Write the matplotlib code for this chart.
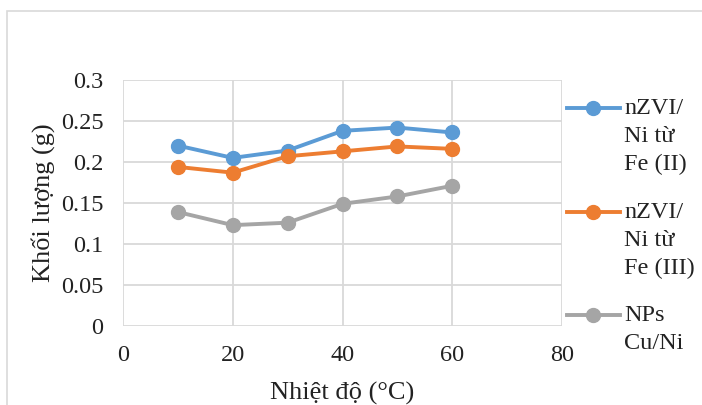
import matplotlib
matplotlib.use('Agg')
import matplotlib.pyplot as plt
from matplotlib.lines import Line2D
from matplotlib.patches import Rectangle

# data
temps = [10, 20, 30, 40, 50, 60]
fe2 = [0.220, 0.205, 0.214, 0.238, 0.242, 0.236]
fe3 = [0.194, 0.187, 0.207, 0.213, 0.219, 0.216]
cuni = [0.139, 0.123, 0.126, 0.149, 0.158, 0.171]
labels = ['nZVI/\nNi từ\nFe (II)', 'nZVI/\nNi từ\nFe (III)', 'NPs\nCu/Ni']
colors = ['#5B9BD5', '#ED7D31', '#A5A5A5']
xticks = [0, 20, 40, 60, 80]
yticks = [0, 0.05, 0.1, 0.15, 0.2, 0.25, 0.3]
ytick_labels = ['0', '0.05', '0.1', '0.15', '0.2', '0.25', '0.3']

plt.rcParams['font.family'] = ['Liberation Serif', 'DejaVu Serif']
W, H = 702, 405
fig = plt.figure(figsize=(W / 100, H / 100), dpi=100)

#outer chart frame (top part cut off in the reference)
fig.patches.append(Rectangle((7 / W, -0.1), 1.2, 1 - 11 / H + 0.1, transform=fig.transFigure,
                             fill=False, edgecolor='#D9D9D9', linewidth=1.2))

ax = fig.add_axes([123 / W, 1 - 326 / H, (562 - 123) / W, (326 - 80) / H])
grid = '#D9D9D9'
for s in ax.spines.values():
    s.set_visible(False)
ax.set_xlim(0, 80)
ax.set_ylim(0, 0.3)
ax.set_xticks(xticks)
ax.set_yticks(yticks)
ax.set_yticklabels(ytick_labels)
ax.grid(True, color=grid, linewidth=1.3)
ax.tick_params(length=0, labelsize=17.5, colors='#222222', pad=14)
ax.set_axisbelow(True)

series = [fe2, fe3, cuni]
for ys, c in zip(series, colors):
    ax.plot(temps, ys, color=c, linewidth=2.8, marker='o', markersize=10, clip_on=False)

ax.set_xlabel('Nhiệt độ (°C)', fontsize=19, color='#222222', labelpad=11)
ax.set_ylabel('Khối lượng (g)', fontsize=19, color='#222222', labelpad=4)

#legend drawn by hand so the handle sits on the first text line
handle_y = [108, 212, 315]
for lab, c, hy in zip(labels, colors, handle_y):
    fy = 1 - hy / H
    fig.add_artist(Line2D([567 / W, 620 / W], [fy, fy], transform=fig.transFigure,
                          color=c, linewidth=2.8))
    fig.add_artist(Line2D([593 / W], [fy], transform=fig.transFigure, color=c,
                          marker='o', markersize=10))
    fig.text(624 / W, 1 - (hy - 10) / H, lab, fontsize=17.5, va='top', ha='left',
             color='#222222', linespacing=1.42)

fig.savefig('out.png', dpi=100)
